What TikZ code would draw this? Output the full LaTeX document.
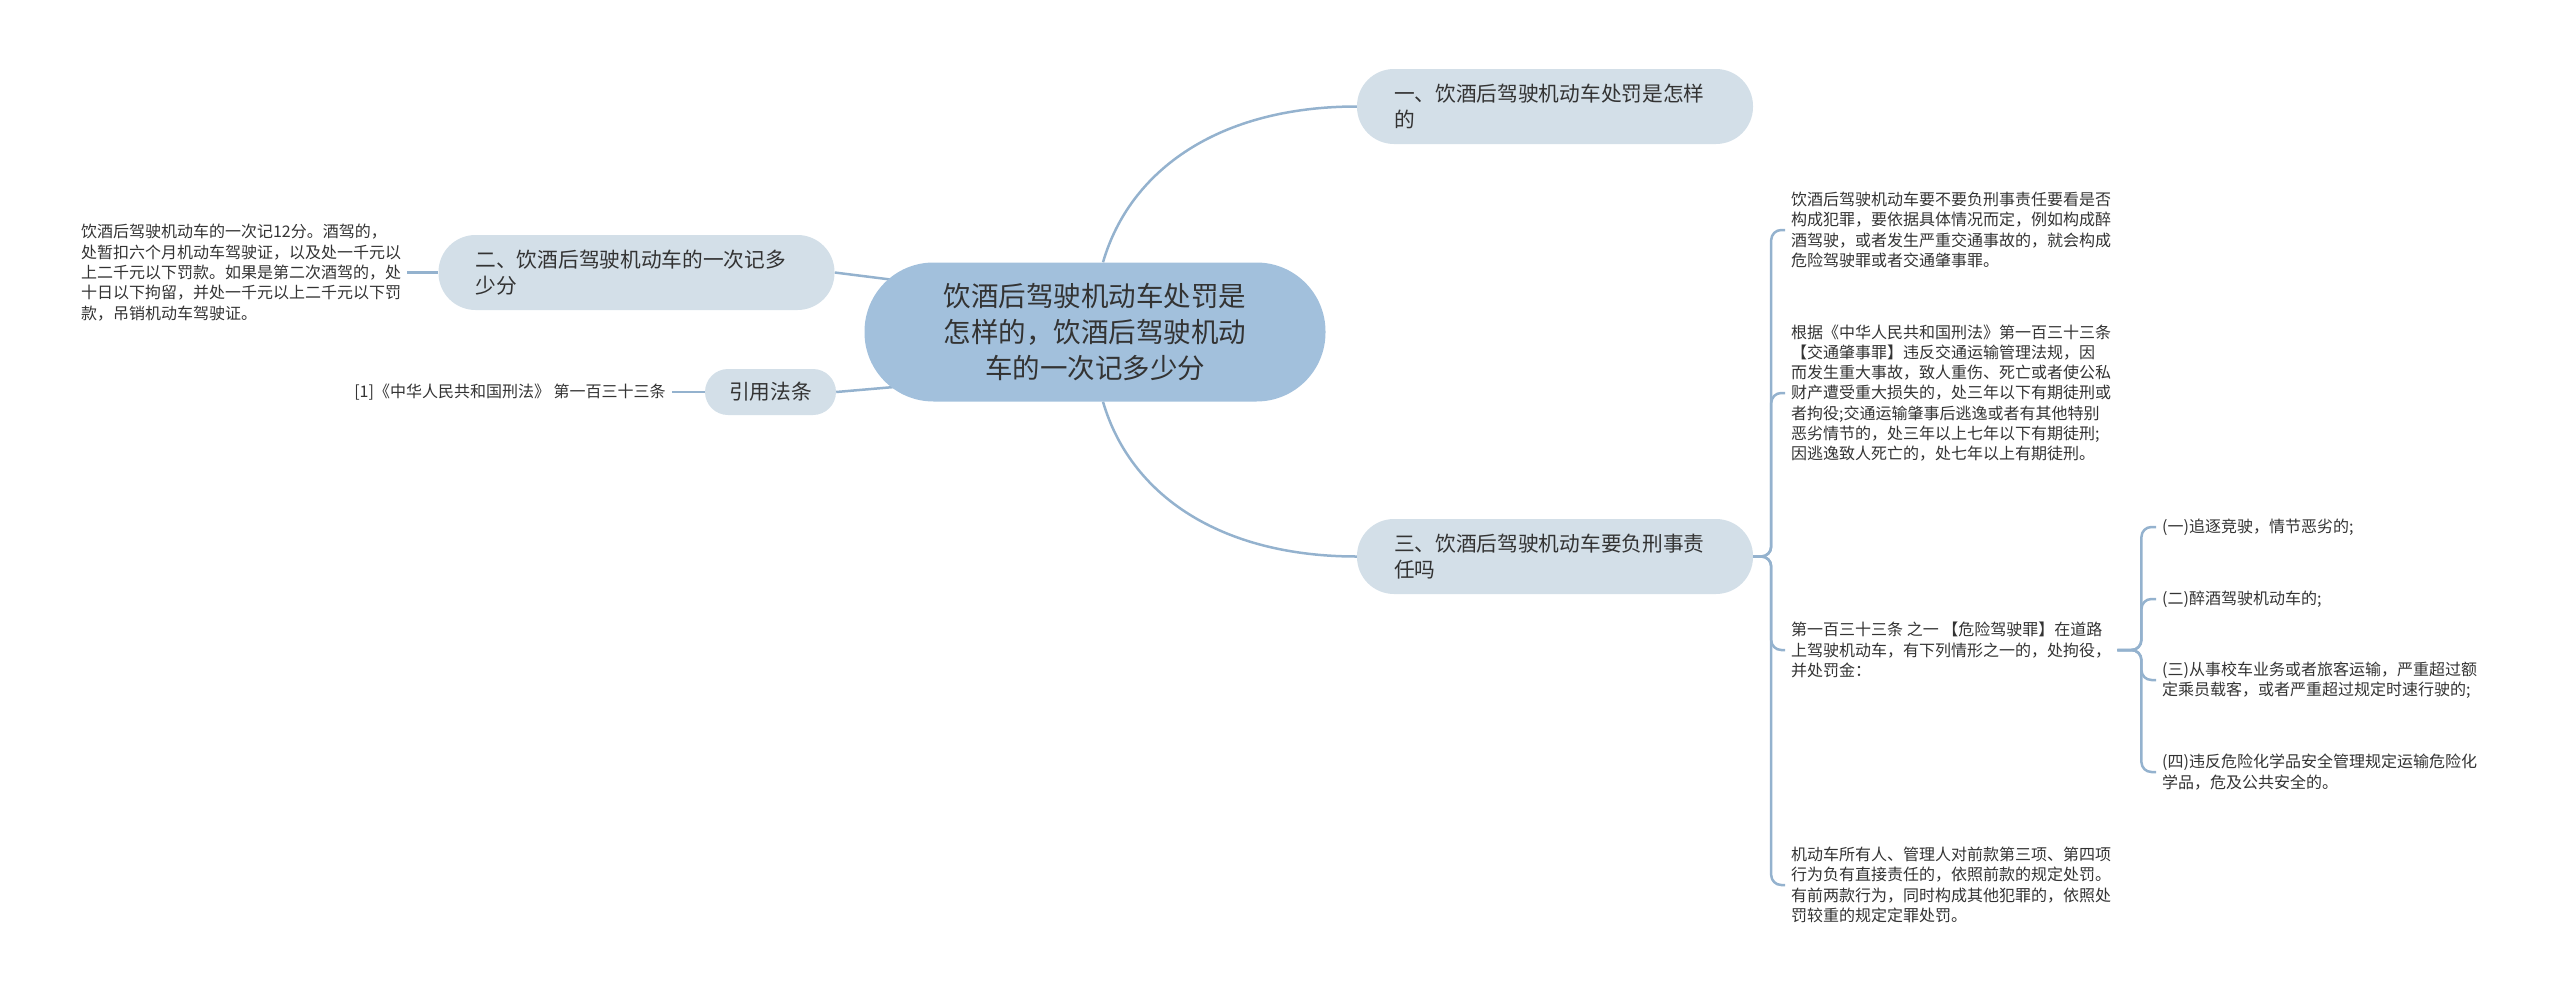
\documentclass[tikz,border=0pt]{standalone}
\usepackage{fontspec}
\setmainfont{Noto Sans CJK SC}
\usetikzlibrary{positioning,backgrounds}
\definecolor{rootblue}{HTML}{A2C0DC}
\definecolor{topicgray}{HTML}{D3DFE8}
\definecolor{linkblue}{HTML}{94B2CE}
\definecolor{inkgray}{HTML}{333333}
\tikzset{
  root/.style={fill=rootblue, rounded corners=69pt, minimum width=461pt,
    minimum height=139pt, align=center, text=inkgray,
    font=\fontsize{27.5}{36}\selectfont},
  topic/.style={fill=topicgray, rounded corners=37pt, minimum width=396pt,
    minimum height=75pt, text width=322pt, inner xsep=37pt, align=left,
    text=inkgray, font=\fontsize{20.7}{26}\selectfont},
  tag/.style={fill=topicgray, rounded corners=23pt, minimum width=131pt,
    minimum height=46pt, text=inkgray, font=\fontsize{20.7}{26}\selectfont},
  leaf/.style={anchor=west, inner xsep=6pt, inner ysep=2pt, align=left,
    text=inkgray, font=\fontsize{16}{20.3}\selectfont},
  link/.style={draw=linkblue, line width=2.5pt},
  brace/.style={link, rounded corners=10pt}
}
\begin{document}
\begin{tikzpicture}[x=1pt, y=-1pt]
\useasboundingbox (0,0) rectangle (2560,1004);
\node[root] (c) at (1095,332) {饮酒后驾驶机动车处罚是\\怎样的，饮酒后驾驶机动\\车的一次记多少分};
\node[topic] (t1) at (1555,106.5) {一、饮酒后驾驶机动车处罚是怎样\\的};
\node[topic] (t2) at (636.5,272.5) {二、饮酒后驾驶机动车的一次记多\\少分};
\node[tag] (cite) at (770.5,392) {引用法条};
\node[topic] (t3) at (1555,556.5) {三、饮酒后驾驶机动车要负刑事责\\任吗};
\node[leaf, left=31pt of t2] (d) {饮酒后驾驶机动车的一次记12分。酒驾的，\\处暂扣六个月机动车驾驶证，以及处一千元以\\上二千元以下罚款。如果是第二次酒驾的，处\\十日以下拘留，并处一千元以上二千元以下罚\\款，吊销机动车驾驶证。};
\node[leaf, left=33pt of cite] (ref) {[1]《中华人民共和国刑法》 第一百三十三条};
\node[leaf] (r1) at (1785,230) {饮酒后驾驶机动车要不要负刑事责任要看是否\\构成犯罪，要依据具体情况而定，例如构成醉\\酒驾驶，或者发生严重交通事故的，就会构成\\危险驾驶罪或者交通肇事罪。};
\node[leaf] (r2) at (1785,393) {根据《中华人民共和国刑法》第一百三十三条\\【交通肇事罪】违反交通运输管理法规，因\\而发生重大事故，致人重伤、死亡或者使公私\\财产遭受重大损失的，处三年以下有期徒刑或\\者拘役;交通运输肇事后逃逸或者有其他特别\\恶劣情节的，处三年以上七年以下有期徒刑;\\因逃逸致人死亡的，处七年以上有期徒刑。};
\node[leaf] (r3) at (1785,650) {第一百三十三条 之一 【危险驾驶罪】在道路\\上驾驶机动车，有下列情形之一的，处拘役，\\并处罚金：};
\node[leaf] (r4) at (1785,885) {机动车所有人、管理人对前款第三项、第四项\\行为负有直接责任的，依照前款的规定处罚。\\有前两款行为，同时构成其他犯罪的，依照处\\罚较重的规定定罪处罚。};
\node[leaf] (s1) at (2156,527) {(一)追逐竞驶，情节恶劣的;};
\node[leaf] (s2) at (2156,599) {(二)醉酒驾驶机动车的;};
\node[leaf] (s3) at (2156,680) {(三)从事校车业务或者旅客运输，严重超过额\\定乘员载客，或者严重超过规定时速行驶的;};
\node[leaf] (s4) at (2156,772) {(四)违反危险化学品安全管理规定运输危险化\\学品，危及公共安全的。};
\coordinate[right=18pt of t3] (j3);
\coordinate[right=24pt of r3] (j4);
\begin{pgfonlayer}{background}
\draw[link] ([xshift=8pt]c.north) .. controls +(27,-93) and +(-137,0) .. (t1.west);
\draw[link] ([xshift=8pt]c.south) .. controls +(27,93) and +(-137,0) .. (t3.west);
\draw[link] (t2.east) -- ([xshift=30pt,yshift=52pt]c.west);
\draw[link] (cite.east) -- ([xshift=30pt,yshift=-55pt]c.west);
\draw[link] (d.east) -- (t2.west);
\draw[link] (ref.east) -- (cite.west);
\end{pgfonlayer}
\foreach \r in {r1,r2,r3,r4}
  \draw[brace] (t3.east) -- (j3) |- (\r.west);
\foreach \s in {s1,s2,s3,s4}
  \draw[brace] (r3.east) -- (j4) |- (\s.west);
\end{tikzpicture}
\end{document}
